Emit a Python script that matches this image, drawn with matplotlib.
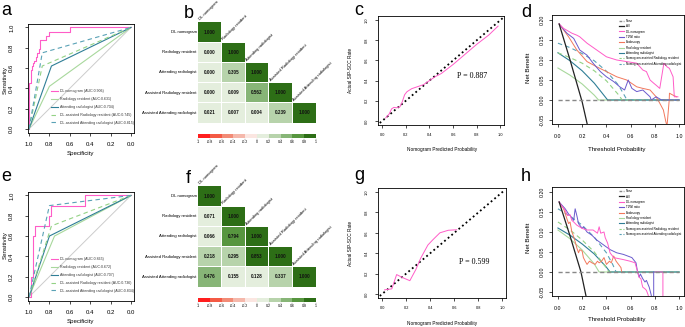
import matplotlib
matplotlib.use("Agg")
import matplotlib.pyplot as plt
from matplotlib.lines import Line2D
from matplotlib.patches import Rectangle
import numpy as np

plt.rcParams['font.family'] = ['Liberation Sans', 'DejaVu Sans']

W, H = 685, 327
fig = plt.figure(figsize=(W / 100, H / 100), dpi=100)

def px_axes(x0, y0, x1, y1):
    return fig.add_axes([x0 / W, 1 - y1 / H, (x1 - x0) / W, (y1 - y0) / H])

def ftext(x, y, s, **kw):
    fig.text(x / W, 1 - y / H, s, **kw)

PINK = '#FF5CC8'; LGREEN = '#A8D89C'; TEAL = '#2F7E96'; DGREEN = '#93D285'; DTEAL = '#5AA2B6'
PURPLE = '#6A5ACD'; ORANGE = '#F2785C'; GREY = '#CCCCCC'

# ---------------- ROC data (specificity, sensitivity) ----------------
roc_labels_a = ['DL nomogram (AUC:0.906)', 'Radiology resident (AUC:0.631)',
                'Attending radiologist (AUC:0.704)', 'DL-assisted Radiology resident (AUC:0.745)',
                'DL-assisted Attending radiologist (AUC:0.815)']
roc_labels_e = ['DL nomogram (AUC:0.865)', 'Radiology resident (AUC:0.672)',
                'Attending radiologist (AUC:0.707)', 'DL-assisted Radiology resident (AUC:0.736)',
                'DL-assisted Attending radiologist (AUC:0.834)']

a_dl_spec = [1.0, 1.0, 0.985, 0.985, 0.97, 0.97, 0.96, 0.96, 0.95, 0.95, 0.935, 0.935, 0.92, 0.92,
             0.905, 0.905, 0.895, 0.895, 0.83, 0.83, 0.80, 0.80, 0.60, 0.60, 0.0]
a_dl_sens = [0.0, 0.45, 0.45, 0.58, 0.58, 0.62, 0.62, 0.65, 0.65, 0.67, 0.67, 0.71, 0.71, 0.75,
             0.75, 0.79, 0.79, 0.875, 0.875, 0.92, 0.92, 0.96, 0.96, 1.0, 1.0]
a_res_spec = [1.0, 0.80, 0.0]; a_res_sens = [0.0, 0.42, 1.0]
a_att_spec = [1.0, 0.78, 0.0]; a_att_sens = [0.0, 0.62, 1.0]
a_ares_spec = [1.0, 0.87, 0.0]; a_ares_sens = [0.0, 0.62, 1.0]
a_aatt_spec = [1.0, 0.87, 0.0]; a_aatt_sens = [0.0, 0.75, 1.0]

e_dl_spec = [1.0, 0.98, 0.98, 0.96, 0.96, 0.94, 0.94, 0.80, 0.80, 0.78, 0.78, 0.45, 0.45, 0.0]
e_dl_sens = [0.0, 0.0, 0.2, 0.2, 0.6, 0.6, 0.7, 0.7, 0.8, 0.8, 0.9, 0.9, 1.0, 1.0]
e_res_spec = [1.0, 0.75, 0.0]; e_res_sens = [0.0, 0.60, 1.0]
e_att_spec = [1.0, 0.80, 0.0]; e_att_sens = [0.0, 0.60, 1.0]
e_ares_spec = [1.0, 0.78, 0.0]; e_ares_sens = [0.0, 0.70, 1.0]
e_aatt_spec = [1.0, 0.80, 0.0]; e_aatt_sens = [0.0, 0.90, 1.0]

# ---------------- correlation matrices ----------------
heat_labels = ['DL nomogram', 'Radiology resident', 'Attending radiologist',
               'Assisted Radiology resident', 'Assisted Attending radiologist']
b_matrix = [[1.000],
            [0.000, 1.000],
            [0.000, 0.305, 1.000],
            [0.000, 0.009, 0.562, 1.000],
            [0.021, 0.007, 0.004, 0.239, 1.000]]
f_matrix = [[1.000],
            [0.071, 1.000],
            [0.066, 0.794, 1.000],
            [0.218, 0.295, 0.853, 1.000],
            [0.476, 0.155, 0.128, 0.337, 1.000]]
cbar_ticks = ['-1', '-0.8', '-0.6', '-0.4', '-0.2', '0', '0.2', '0.4', '0.6', '0.8', '1']
heat_colors = ['#FF1E1E', '#F45A45', '#F28B76', '#F5B8AB', '#FBE6E1',
               '#E4EEDD', '#B7D3AB', '#87B577', '#57963F', '#2D6E16']

# ---------------- calibration ----------------
c_pred = [0.03, 0.06, 0.08, 0.10, 0.12, 0.15, 0.17, 0.19, 0.21, 0.25, 0.30, 0.35, 0.40, 0.45,
          0.50, 0.60, 0.70, 0.80, 0.90, 0.98]
c_obs = [0.03, 0.07, 0.12, 0.135, 0.13, 0.14, 0.19, 0.26, 0.29, 0.32, 0.34, 0.36, 0.40, 0.44,
         0.47, 0.56, 0.66, 0.76, 0.85, 0.94]
g_pred = [0.02, 0.08, 0.12, 0.17, 0.23, 0.28, 0.32, 0.38, 0.42, 0.48, 0.55, 0.62]
g_obs = [0.04, 0.05, 0.19, 0.16, 0.13, 0.24, 0.35, 0.48, 0.53, 0.60, 0.625, 0.63]

# ---------------- decision curves ----------------
dca_labels = ['None', 'All', 'DL nomogram', 'T2WI ratio', 'Endoscopy', 'Radiology resident',
              'Attending radiologist', 'Nomogram-assisted Radiology resident',
              'Nomogram-assisted Attending radiologist']

d_all_x = [0.01, 0.10, 0.20, 0.245]; d_all_y = [0.19, 0.10, -0.005, -0.065]
d_dl_x = [0.01, 0.047, 0.115, 0.156, 0.18, 0.24, 0.32, 0.40, 0.485, 0.567, 0.65, 0.70, 0.73, 0.76,
          0.79, 0.81, 0.84, 0.874, 0.90, 0.92, 0.95, 0.96, 0.99]
d_dl_y = [0.19, 0.179, 0.167, 0.162, 0.158, 0.142, 0.125, 0.108, 0.100, 0.096, 0.092, 0.075, 0.071,
          0.050, 0.042, 0.037, 0.029, 0.092, 0.083, 0.079, 0.058, 0.008, 0.008]
d_t2_x = [0.01, 0.074, 0.13, 0.18, 0.24, 0.29, 0.35, 0.40, 0.46, 0.51, 0.55, 0.58, 0.61, 0.65,
          0.70, 0.76, 0.77, 0.81, 0.855, 1.0]
d_t2_y = [0.19, 0.167, 0.154, 0.125, 0.112, 0.092, 0.071, 0.058, 0.046, 0.033, 0.025, 0.050, 0.029,
          0.021, 0.025, 0.008, 0.0, 0.008, 0.0, 0.0]
d_en_x = [0.01, 0.088, 0.156, 0.24, 0.32, 0.40, 0.485, 0.567, 0.65, 0.70, 0.76, 0.81, 0.84, 0.87,
          0.89, 0.90, 0.918, 0.92, 0.95, 0.98]
d_en_y = [0.19, 0.158, 0.125, 0.096, 0.083, 0.071, 0.058, 0.050, 0.033, 0.029, 0.025, 0.008,
          -0.008, -0.025, -0.054, -0.065, 0.0, 0.017, 0.012, 0.008]
d_res_x = [0.0, 0.10, 0.20, 0.30, 0.335, 1.0]; d_res_y = [0.080, 0.062, 0.040, 0.012, 0.0, 0.0]
d_att_x = [0.0, 0.10, 0.20, 0.30, 0.41, 1.0]; d_att_y = [0.118, 0.098, 0.073, 0.042, 0.0, 0.0]
d_ares_x = [0.0, 0.10, 0.20, 0.30, 0.40, 0.50, 0.53, 1.0]
d_ares_y = [0.118, 0.106, 0.092, 0.073, 0.048, 0.013, 0.0, 0.0]
d_aatt_x = [0.0, 0.10, 0.20, 0.30, 0.40, 0.50, 0.57, 1.0]
d_aatt_y = [0.142, 0.131, 0.116, 0.098, 0.072, 0.037, 0.0, 0.0]

h_all_x = [0.01, 0.10, 0.19, 0.235]; h_all_y = [0.175, 0.09, 0.0, -0.065]
h_dl_x = [0.01, 0.02, 0.06, 0.08, 0.10, 0.115, 0.13, 0.156, 0.20, 0.24, 0.29, 0.326, 0.34, 0.353,
          0.38, 0.39, 0.41, 0.43, 0.46, 0.54, 0.595, 0.636, 0.655, 0.67, 0.685, 0.693, 0.70, 0.718,
          0.73, 0.745, 0.75, np.nan, 0.80, 0.866, 0.866]
h_dl_y = [0.175, 0.17, 0.154, 0.141, 0.143, 0.129, 0.125, 0.117, 0.109, 0.105, 0.105, 0.097, 0.113,
          0.097, 0.100, 0.086, 0.072, 0.048, 0.036, 0.031, 0.027, 0.023, 0.003, -0.013, -0.017,
          -0.030, -0.038, -0.042, -0.046, -0.058, -0.08, np.nan, 0.0, 0.0, -0.08]
h_t2_x = [0.01, 0.06, 0.088, 0.10, 0.13, 0.142, 0.156, 0.17, 0.20, 0.21, 0.24, 0.28, 0.32, 0.375,
          0.43, 0.485, 0.54, 0.61, 0.644, 0.657, 0.67, 0.68, 0.70, 0.718, 0.73, 0.753, 0.77, 0.775,
          np.nan, 0.79, 0.79]
h_t2_y = [0.175, 0.158, 0.145, 0.141, 0.129, 0.158, 0.141, 0.121, 0.109, 0.113, 0.100, 0.092,
          0.080, 0.068, 0.056, 0.048, 0.044, 0.036, 0.023, 0.0, -0.013, -0.005, -0.017, -0.025,
          -0.021, -0.038, -0.058, -0.08, np.nan, 0.0, -0.08]
h_en_x = [0.01, 0.047, 0.074, 0.088, 0.10, 0.115, 0.13, 0.142, 0.156, 0.17, 0.18, 0.20, 0.21,
          0.225, 0.24, 0.26, 0.28, 0.307, 0.326, 0.34, 0.36, 0.38, 0.40, 0.425, 0.44, 0.46, 0.48,
          0.50, 0.52, 0.526]
h_en_y = [0.175, 0.158, 0.133, 0.121, 0.125, 0.100, 0.088, 0.076, 0.060, 0.048, 0.056, 0.052,
          0.036, 0.027, 0.019, 0.027, 0.023, 0.019, 0.027, 0.023, 0.027, 0.036, 0.019, 0.027,
          0.023, 0.040, 0.027, 0.019, 0.011, 0.0]
h_res_x = [0.0, 0.10, 0.20, 0.30, 0.34, 1.0]; h_res_y = [0.105, 0.083, 0.055, 0.020, 0.0, 0.0]
h_att_x = [0.0, 0.10, 0.20, 0.30, 0.40, 0.43, 1.0]
h_att_y = [0.110, 0.092, 0.070, 0.045, 0.012, 0.0, 0.0]
h_ares_x = [0.0, 0.10, 0.20, 0.30, 0.40, 0.42, 1.0]
h_ares_y = [0.125, 0.105, 0.080, 0.050, 0.010, 0.0, 0.0]
h_aatt_x = [0.0, 0.10, 0.20, 0.30, 0.40, 0.45, 0.48, 1.0]
h_aatt_y = [0.158, 0.140, 0.117, 0.087, 0.048, 0.020, 0.0, 0.0]


def style_frame(ax, lw=0.6):
    for s in ax.spines.values():
        s.set_linewidth(lw)
        s.set_color('black')


# ---------------- ROC panels ----------------
def roc_panel(box, curves, labels, xlab_pos, ylab_pos):
    ax = px_axes(*box)
    style_frame(ax)
    ax.plot([1.0, 0.0], [0.0, 1.0], color=GREY, lw=0.7)
    styles = [(PINK, '-'), (LGREEN, '-'), (TEAL, '-'), (DGREEN, (0, (4, 3))), (DTEAL, (0, (4, 3)))]
    handles = []
    for (sx, sy), (col, ls) in zip(curves, styles):
        ax.plot(sx, sy, color=col, lw=0.8, ls=ls)
        handles.append(Line2D([], [], color=col, lw=0.8, ls=ls))
    ax.set_xlim(1.01, -0.03)
    ax.set_ylim(-0.04, 1.034)
    ticks = [1.0, 0.8, 0.6, 0.4, 0.2, 0.0]
    ax.set_xticks(ticks)
    ax.set_xticklabels([f'{t:.1f}' for t in ticks])
    ax.set_yticks(ticks)
    ax.set_yticklabels([f'{t:.1f}' for t in ticks], rotation=90, va='center')
    ax.tick_params(axis='x', length=2.5, width=0.5, labelsize=4.3, pad=4.0)
    ax.tick_params(axis='y', length=2.5, width=0.5, labelsize=4.3, pad=7.5)
    ax.legend(handles, labels, loc='upper left', bbox_to_anchor=(0.22, 0.40), fontsize=2.6,
              frameon=False, handlelength=1.9, handletextpad=0.6, labelspacing=1.05,
              borderpad=0, borderaxespad=0, labelcolor='#333333')
    ftext(*xlab_pos, 'Specificity', ha='center', va='center', fontsize=4.4)
    ftext(*ylab_pos, 'Sensitivity', ha='center', va='center', fontsize=4.4, rotation=90)
    return ax

roc_panel((28, 24, 134, 133),
          [(a_dl_spec, a_dl_sens), (a_res_spec, a_res_sens), (a_att_spec, a_att_sens),
           (a_ares_spec, a_ares_sens), (a_aatt_spec, a_aatt_sens)],
          roc_labels_a, (80, 154), (5, 80))
roc_panel((28, 192, 134, 301),
          [(e_dl_spec, e_dl_sens), (e_res_spec, e_res_sens), (e_att_spec, e_att_sens),
           (e_ares_spec, e_ares_sens), (e_aatt_spec, e_aatt_sens)],
          roc_labels_e, (80, 322), (5, 245))


# ---------------- heatmaps ----------------
def heat_panel(box, cbox, mat):
    ax = px_axes(*box)
    ax.set_xlim(0, 5)
    ax.set_ylim(5, 0)
    ax.axis('off')
    g = 0.02
    for i, row in enumerate(mat):
        for j, v in enumerate(row):
            k = min(int((v + 1) / 0.2), 9)
            ax.add_patch(Rectangle((j + g, i + g), 1 - 2 * g, 1 - 2 * g, facecolor=heat_colors[k],
                                   edgecolor='none'))
            ax.text(j + 0.5, i + 0.5, f'{v:.3f}', ha='center', va='center', fontsize=3.3,
                    fontweight='bold', color='#111111')
    for i, lab in enumerate(heat_labels):
        ax.text(-0.05, i + 0.5, lab, ha='right', va='center', fontsize=3.1, clip_on=False)
        ax.text(i + 0.12, i - 0.04, lab, ha='left', va='bottom', fontsize=3.0, rotation=45,
                rotation_mode='anchor', clip_on=False)
    cax = px_axes(*cbox)
    cax.set_xlim(-1, 1)
    cax.set_ylim(0, 1)
    cax.axis('off')
    for k, col in enumerate(heat_colors):
        cax.add_patch(Rectangle((-1 + 0.2 * k, 0), 0.2, 1, facecolor=col, edgecolor='none'))
    for k, lab in enumerate(cbar_ticks):
        x = -1 + 0.2 * k
        cax.plot([x, x], [-0.15, -0.45], color='#555555', lw=0.3, clip_on=False)
        cax.text(x, -0.6, lab, ha='center', va='top', fontsize=2.6, clip_on=False)

heat_panel((198, 22, 316, 123), (198, 134, 316, 138), b_matrix)
heat_panel((198, 186, 316, 287), (198, 298, 316, 302), f_matrix)


# ---------------- calibration panels ----------------
def cal_panel(box, px, py, ptxt, ptxt_xy, xlab_pos, ylab_pos):
    ax = px_axes(*box)
    style_frame(ax)
    ax.plot([-0.02, 1.02], [-0.02, 1.02], color='black', lw=1.3, ls=(0, (1, 1.6)))
    ax.plot(px, py, color=PINK, lw=0.7)
    ax.set_xlim(-0.035, 1.03)
    ax.set_ylim(-0.04, 1.04)
    ticks = [0.0, 0.2, 0.4, 0.6, 0.8, 1.0]
    ax.set_xticks(ticks)
    ax.set_xticklabels([f'{t:.1f}' for t in ticks])
    ax.set_yticks(ticks)
    ax.set_yticklabels([f'{t:.1f}' for t in ticks], rotation=90, va='center')
    ax.tick_params(axis='x', length=2, width=0.5, labelsize=2.8, pad=3.5)
    ax.tick_params(axis='y', length=2, width=0.5, labelsize=2.8, pad=4.5)
    ax.text(ptxt_xy[0], ptxt_xy[1], ptxt, ha='left', va='center', fontsize=5.8,
            family=['Liberation Serif', 'DejaVu Serif'])
    ftext(*xlab_pos, 'Nomogram Predicted Probability', ha='center', va='center', fontsize=3.4)
    ftext(*ylab_pos, 'Actual SIP-SCC Rate', ha='center', va='center', fontsize=3.4, rotation=90)

cal_panel((378, 16, 504, 125), c_pred, c_obs, 'P = 0.887', (0.63, 0.445), (442, 150), (350, 70))
cal_panel((378, 188, 506, 298), g_pred, g_obs, 'P = 0.599', (0.64, 0.31), (442, 323), (350, 243))


# ---------------- decision curve panels ----------------
def dca_panel(box, series, leg_anchor, xlab_pos, ylab_pos):
    ax = px_axes(*box)
    style_frame(ax)
    cols = [LGREEN, TEAL, DGREEN, DTEAL]
    lss = ['-', '-', (0, (4, 3)), (0, (4, 3))]
    (allx, ally), (dlx, dly), (t2x, t2y), (enx, eny), rest = series[0], series[1], series[2], series[3], series[4:]
    for (sx, sy), c, ls in zip(rest, cols, lss):
        ax.plot(sx, sy, color=c, lw=0.8, ls=ls)
    ax.plot(enx, eny, color=ORANGE, lw=0.7)
    ax.plot(t2x, t2y, color=PURPLE, lw=0.7)
    ax.plot(dlx, dly, color=PINK, lw=0.7)
    ax.plot(allx, ally, color='#222222', lw=0.9)
    ax.plot([0.0, 1.0], [0.0, 0.0], color='#888888', lw=1.0, ls=(0, (3, 2)))
    ax.set_xlim(-0.049, 1.04)
    ax.set_ylim(-0.06, 0.2125)
    xt = [0.0, 0.2, 0.4, 0.6, 0.8, 1.0]
    ax.set_xticks(xt)
    ax.set_xticklabels([f'{t:.1f}' for t in xt])
    yt = [-0.05, 0.0, 0.05, 0.10, 0.15, 0.20]
    ax.set_yticks(yt)
    ax.set_yticklabels([f'{t:.2f}' for t in yt], rotation=90, va='center')
    ax.tick_params(axis='x', length=2.5, width=0.5, labelsize=3.8, pad=4.5)
    ax.tick_params(axis='y', length=2.5, width=0.5, labelsize=3.8, pad=3.0)
    handles = [Line2D([], [], color='#888888', lw=1.0, ls=(0, (2, 1))),
               Line2D([], [], color='#222222', lw=0.9),
               Line2D([], [], color=PINK, lw=0.8),
               Line2D([], [], color=PURPLE, lw=0.8),
               Line2D([], [], color=ORANGE, lw=0.8),
               Line2D([], [], color=LGREEN, lw=0.8),
               Line2D([], [], color=TEAL, lw=0.8),
               Line2D([], [], color=DGREEN, lw=0.8, ls=(0, (2, 1.5))),
               Line2D([], [], color=DTEAL, lw=0.8, ls=(0, (2, 1.5)))]
    ax.legend(handles, dca_labels, loc='upper left', bbox_to_anchor=leg_anchor, fontsize=2.2,
              frameon=False, handlelength=1.5, handletextpad=0.6, labelspacing=0.45,
              borderpad=0, borderaxespad=0)
    ftext(*xlab_pos, 'Threshold Probability', ha='center', va='center', fontsize=4.4)
    ftext(*ylab_pos, 'Net Benefit', ha='center', va='center', fontsize=4.4, rotation=90)

dca_panel((552, 15, 684, 124),
          [(d_all_x, d_all_y), (d_dl_x, d_dl_y), (d_t2_x, d_t2_y), (d_en_x, d_en_y),
           (d_res_x, d_res_y), (d_att_x, d_att_y), (d_ares_x, d_ares_y), (d_aatt_x, d_aatt_y)],
          (0.51, 0.965), (617, 149), (528, 68))
dca_panel((552, 187, 684, 296),
          [(h_all_x, h_all_y), (h_dl_x, h_dl_y), (h_t2_x, h_t2_y), (h_en_x, h_en_y),
           (h_res_x, h_res_y), (h_att_x, h_att_y), (h_ares_x, h_ares_y), (h_aatt_x, h_aatt_y)],
          (0.51, 0.98), (617, 320), (528, 238))

# ---------------- panel letters ----------------
for lab, x, y in [('a', 1, 15), ('b', 184, 18), ('c', 354, 15), ('d', 521, 17),
                  ('e', 1, 181), ('f', 186, 183), ('g', 354, 180), ('h', 521, 181)]:
    ftext(x, y, lab, ha='left', va='baseline', fontsize=13)

fig.savefig('out.png', dpi=100)
